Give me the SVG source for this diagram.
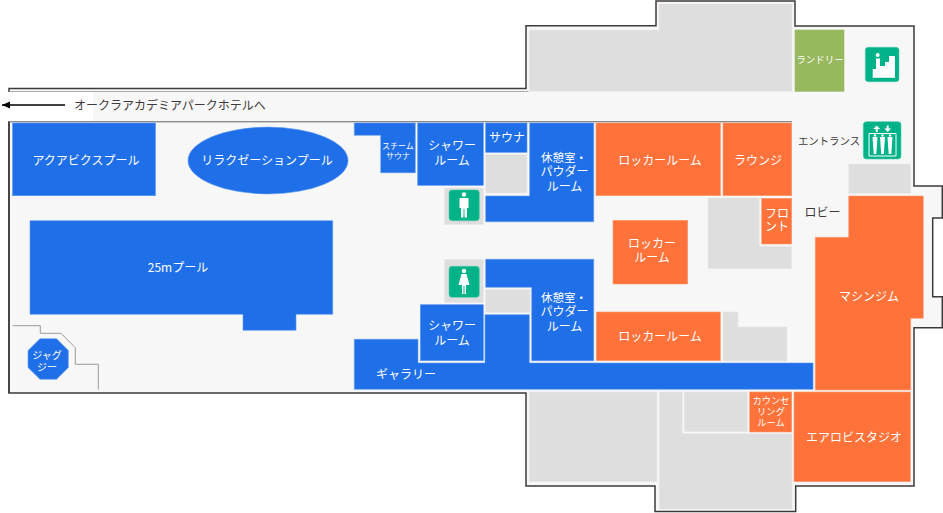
<svg xmlns="http://www.w3.org/2000/svg" width="943" height="513" viewBox="0 0 943 513">
<style>
text{font-family:"Noto Sans CJK JP","Noto Sans",sans-serif;font-size:12px;text-anchor:middle}
.w{fill:#fff}
.d{fill:#3e3a39}
.b{fill:#1f6fe8;stroke:#5d97ee;stroke-width:.6}
.o{fill:#ff723a;stroke:#ff9a72;stroke-width:.6}
.g{fill:#dedede;stroke:#e8e8e8;stroke-width:.6}
.i{fill:#00b288;stroke:#4cc9ab;stroke-width:.6}
.ic{fill:#fff}
.wall{fill:#f7f7f7;stroke:#3e3a39;stroke-width:1.5}
</style>
<defs>
<marker id="ah" markerUnits="userSpaceOnUse" markerWidth="10" markerHeight="8" refX="8" refY="3.5" orient="auto"><path d="M0 0L8 3.5L0 7Z" fill="#000"/></marker>
</defs>
<g id="building">
<path class="wall" d="M9 88.5H526V25.7H656V1H795V26H914V186H942.3V218H932.7V296.7H942.3V327.7H914V486H795.7V511.5H655V486H526V393H9Z"/>
<rect x="1" y="92" width="92" height="29" fill="#fff"/>
<rect x="9.5" y="91" width="519" height="1" fill="#aaa"/>
<rect x="9" y="121" width="783" height="1.4" fill="#8c8c8c"/>
<rect x="8.2" y="122" width="1.5" height="271" fill="#3e3a39"/>
<path d="M12.7 325.7H40.3V333.3H61L75.3 347.7V364.3H98.3V389.5" fill="none" stroke="#999" stroke-width="1"/>
</g>
<g id="grey-rooms">
<path class="g" d="M529.3 30H659V4H792V91.3H529.3Z"/>
<rect class="g" x="848.7" y="164" width="62" height="29.3"/>
<rect class="g" x="485.7" y="154.7" width="41.3" height="38.3"/>
<rect class="g" x="444.3" y="188" width="39" height="36.3"/>
<rect class="g" x="444.3" y="259.3" width="39" height="43.4"/>
<rect class="g" x="485.7" y="289.3" width="44.3" height="23"/>
<path class="g" d="M708 198H759.3V246.3H791.7V268.7H708Z"/>
<path class="g" d="M723 312H738V327H787V361H723Z"/>
<rect class="g" x="529.3" y="392" width="127.7" height="89.7"/>
<path class="g" d="M659.3 392H682.3V433.7H792V509H659.3Z"/>
<rect class="g" x="684.3" y="392" width="63" height="39.7"/>
</g>
<g id="aquabics"><rect class="b" x="12.5" y="123" width="143" height="72.7"/><text class="w" x="86" y="164.5">アクアビクスプール</text></g>
<g id="relaxation"><ellipse class="b" cx="268" cy="160.5" rx="80" ry="33.4"/><text class="w" x="267" y="165">リラクゼーションプール</text></g>
<g id="pool25"><path class="b" d="M30 220.7H332.7V314.3H296V330.3H243V314.3H30Z"/><text class="w" x="178" y="272">25mプール</text></g>
<g id="jacuzzi"><path class="b" d="M40 338.7H56.5L68.3 350.5V367.5L56.5 379.3H40L28 367.5V350.5Z"/><text class="w" x="47" y="359" style="font-size:10px">ジャグ</text><text class="w" x="47" y="371" style="font-size:10px">ジー</text></g>
<g id="steam"><path class="b" d="M354.3 123H415.3V172.7H380.7V135.3H354.3Z"/><text class="w" x="398" y="149" style="font-size:8px">スチーム</text><text class="w" x="398" y="159" style="font-size:8px">サウナ</text></g>
<g id="shower-top"><rect class="b" x="417.7" y="123" width="65.6" height="62.3"/><text class="w" x="452" y="150">シャワー</text><text class="w" x="452" y="165">ルーム</text></g>
<g id="sauna"><rect class="b" x="485.7" y="123" width="41.3" height="29.3"/><text class="w" x="507" y="142">サウナ</text></g>
<g id="rest-top"><path class="b" d="M529.7 123H593.7V221.7H485.7V196H529.7Z"/><text class="w" x="564" y="161.5" style="font-size:11.5px">休憩室・</text><text class="w" x="564.5" y="175.5">パウダー</text><text class="w" x="564.5" y="190.5">ルーム</text></g>
<g id="wc-men"><rect class="i" x="449" y="190" width="30.3" height="30.7" rx="3"/><circle class="ic" cx="464" cy="194.5" r="2.2"/><path class="ic" d="M459.5 198H468.5V208H467V217.5H464.5V209H463.5V217.5H461V208H459.5Z"/></g>
<g id="wc-women"><rect class="i" x="449" y="266.3" width="30.3" height="31" rx="3"/><circle class="ic" cx="464" cy="271" r="2.2"/><path class="ic" d="M461.5 274H466.5L469.5 285H466V294H464.5V286H463.5V294H462V285H458.5Z"/></g>
<g id="rest-bottom"><path class="b" d="M485.7 259.3H593.7V360.7H531.7V287.3H485.7Z"/><text class="w" x="564" y="301.5" style="font-size:11.5px">休憩室・</text><text class="w" x="564.5" y="315.5">パウダー</text><text class="w" x="564.5" y="330.5">ルーム</text></g>
<g id="shower-bottom"><rect class="b" x="420.3" y="304.7" width="63" height="56"/><text class="w" x="452" y="330">シャワー</text><text class="w" x="452" y="345">ルーム</text></g>
<g id="gallery"><path class="b" d="M354.3 339.3H418V363H485V314.7H529.3V363H813V389.3H354.3Z"/><text class="w" x="406" y="379">ギャラリー</text></g>
<g id="locker-top"><rect class="o" x="596" y="123" width="124.5" height="72.7"/><text class="w" x="660" y="164.5">ロッカールーム</text></g>
<g id="lounge"><rect class="o" x="723" y="123" width="68.7" height="72.7"/><text class="w" x="758" y="164.5">ラウンジ</text></g>
<g id="front"><rect class="o" x="761.7" y="198.3" width="30" height="45.7"/><text class="w" x="777" y="218">フロ</text><text class="w" x="777" y="231">ント</text></g>
<g id="locker-mid"><rect class="o" x="613" y="220.3" width="74.7" height="63.7"/><text class="w" x="652" y="248">ロッカー</text><text class="w" x="652" y="262">ルーム</text></g>
<g id="locker-low"><rect class="o" x="596.3" y="312" width="124" height="48.7"/><text class="w" x="660" y="341">ロッカールーム</text></g>
<g id="gym"><path class="o" d="M815.3 237.3H848.7V196H923.3V318.3H910.7V390H815.3Z"/><text class="w" x="869" y="301">マシンジム</text></g>
<g id="studio"><rect class="o" x="794" y="392" width="116.3" height="89.7"/><text class="w" x="854" y="442">エアロビスタジオ</text></g>
<g id="counseling"><rect class="o" x="749.7" y="392" width="42" height="40"/><text class="w" x="771" y="404" style="font-size:9.3px">カウンセ</text><text class="w" x="771" y="415" style="font-size:9.3px">リング</text><text class="w" x="771" y="426" style="font-size:9.3px">ルーム</text></g>
<g id="laundry"><rect x="794.7" y="29.7" width="49.6" height="62" fill="#97b85d"/><text class="w" x="820" y="63" style="font-size:9.5px">ランドリー</text></g>
<g id="escalator"><rect class="i" x="865.3" y="47.3" width="33.7" height="34.4" rx="3"/><circle class="ic" cx="877.7" cy="55" r="2"/><path class="ic" d="M872.7 77.7V69H876V58.5H880V66H885V62H889V56H895V77.7Z"/></g>
<g id="elevator"><rect class="i" x="863.3" y="121.7" width="37.7" height="37.3" rx="3"/>
<path class="ic" d="M876.7 125.5L880.2 129H877.7V132H875.7V129H873.2ZM887.7 132L891.2 128.5H888.7V125.5H886.7V128.5H884.2Z"/>
<path d="M869 133.5H896V156H869Z" fill="none" stroke="#fff" stroke-width="1"/>
<path class="ic" d="M872.5 137H877.5L876.3 154H873.7ZM880 137H885L883.8 154H881.2ZM887.5 137H892.5L891.3 154H888.7Z"/>
<circle class="ic" cx="875" cy="135.5" r="1.2"/><circle class="ic" cx="882.5" cy="135.5" r="1.2"/><circle class="ic" cx="890" cy="135.5" r="1.2"/></g>
<g id="labels"><text class="d" x="829" y="145" style="font-size:10.4px">エントランス</text><text class="d" x="822.5" y="217">ロビー</text><text class="d" x="170" y="110">オークラアカデミアパークホテルへ</text></g>
<g id="connectors"><line x1="65" y1="105" x2="2" y2="105" stroke="#000" stroke-width="1.5" marker-end="url(#ah)"/></g>
</svg>
